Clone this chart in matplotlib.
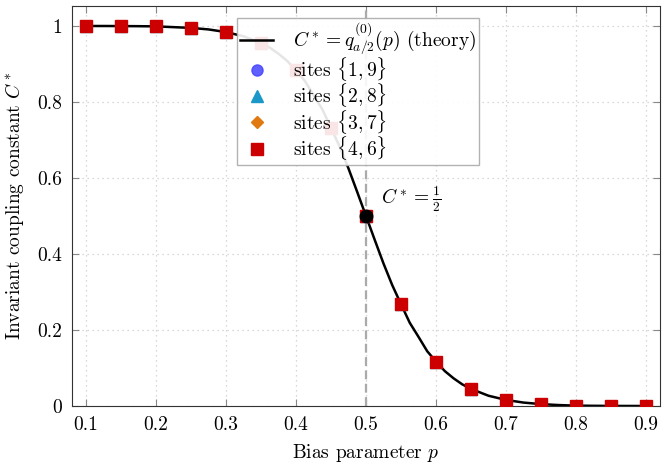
import numpy as np
import matplotlib
matplotlib.use("Agg")
import matplotlib.pyplot as plt

plt.rcParams['font.family'] = 'serif'
plt.rcParams['font.serif'] = ['cmr10']
plt.rcParams['mathtext.fontset'] = 'cm'
plt.rcParams['axes.formatter.use_mathtext'] = True

# theory curve (denser near the drop)
p_theory = [0.1, 0.125, 0.15, 0.175, 0.2, 0.225, 0.25, 0.275, 0.3, 0.325, 0.35,
            0.3625, 0.375, 0.3875, 0.4, 0.4125, 0.425, 0.4375, 0.45, 0.4625, 0.475,
            0.4875, 0.5, 0.5125, 0.525, 0.5375, 0.55, 0.5625, 0.575, 0.5875, 0.6,
            0.6125, 0.625, 0.6375, 0.65, 0.675, 0.7, 0.725, 0.75, 0.775, 0.8, 0.825,
            0.85, 0.875, 0.9]
c_theory = [1.0, 1.0, 0.9998, 0.9995, 0.999, 0.997, 0.995, 0.991, 0.984, 0.973, 0.955,
            0.943, 0.927, 0.908, 0.883, 0.856, 0.818, 0.781, 0.732, 0.682, 0.625,
            0.563, 0.5, 0.437, 0.375, 0.318, 0.268, 0.219, 0.182, 0.144, 0.117,
            0.092, 0.073, 0.057, 0.045, 0.027, 0.016, 0.009, 0.005, 0.0025, 0.001, 0.0005,
            0.0002, 0.0001, 0.0]

# simulated sites (all four pairs overlap)
p_sites = [0.1, 0.15, 0.2, 0.25, 0.3, 0.35, 0.4, 0.45, 0.5, 0.55, 0.6, 0.65,
           0.7, 0.75, 0.8, 0.85, 0.9]
c_sites = [1.0, 0.9998, 0.999, 0.995, 0.984, 0.955, 0.883, 0.732, 0.5, 0.268,
           0.117, 0.045, 0.016, 0.005, 0.001, 0.0002, 0.0]

fig = plt.figure(figsize=(6.67, 4.66), dpi=100)
ax = fig.add_axes([72 / 667, 60 / 466, 588 / 667, 400 / 466])

ax.plot(p_theory, c_theory, color='black', lw=1.8, zorder=3,
        label=r'$C^* = q^{(0)}_{a/2}(p)$ (theory)')
ax.plot(p_sites, c_sites, 'o', color='#4444ff', ms=8, alpha=0.85, ls='none',
        zorder=4, label=r'sites $\{1, 9\}$')
ax.plot(p_sites, c_sites, '^', color='#1b98c7', ms=8, ls='none', zorder=5,
        label=r'sites $\{2, 8\}$')
ax.plot(p_sites, c_sites, 'D', color='#e07a10', ms=6, ls='none', zorder=6,
        label=r'sites $\{3, 7\}$')
ax.plot(p_sites, c_sites, 's', color='#cc0000', ms=9, ls='none', zorder=7,
        label=r'sites $\{4, 6\}$')

ax.axvline(0.5, color='#aaaaaa', ls=(0, (4, 2)), lw=1.6, zorder=2)
ax.plot([0.5], [0.5], 'o', color='black', ms=9, zorder=8)
ax.text(0.522, 0.545, r'$C^* = \frac{1}{2}$', fontsize=14, va='center')

ax.set_xlim(0.08, 0.92)
ax.set_ylim(0, 1 + 20 / 380)
ax.set_xticks([0.1, 0.2, 0.3, 0.4, 0.5, 0.6, 0.7, 0.8, 0.9])
ax.set_yticks([0, 0.2, 0.4, 0.6, 0.8, 1])
ax.set_yticklabels(['0', '0.2', '0.4', '0.6', '0.8', '1'])
ax.set_xticklabels(['0.1', '0.2', '0.3', '0.4', '0.5', '0.6', '0.7', '0.8', '0.9'])
ax.tick_params(direction='in', top=True, right=True, length=5, color='#888888',
               labelsize=14, pad=7)
ax.grid(True, ls=(0, (1, 3)), color='#cccccc', lw=0.9)
for s in ax.spines.values():
    s.set_color('#333333')

ax.set_xlabel(r'Bias parameter $p$', fontsize=14, labelpad=6)
ax.set_ylabel(r'Invariant coupling constant $C^*$', fontsize=14, labelpad=8)

leg = ax.legend(loc='upper left', bbox_to_anchor=(0.281, 0.97), fontsize=14,
                framealpha=0.9, fancybox=False, edgecolor='#aaaaaa',
                handlelength=1.7, borderpad=0.15, labelspacing=-0.08,
                borderaxespad=0, handletextpad=1.0)
leg.set_zorder(10)

fig.savefig('out.png', dpi=100)
